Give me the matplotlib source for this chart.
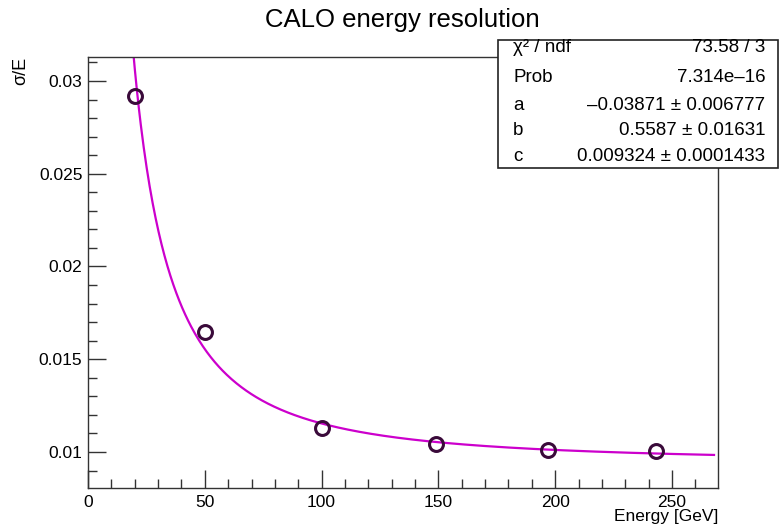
import numpy as np
import matplotlib
matplotlib.use("Agg")
import matplotlib.pyplot as plt
from matplotlib.ticker import MultipleLocator, FormatStrFormatter
from matplotlib.patches import Rectangle

plt.rcParams['font.family'] = ['Liberation Sans', 'DejaVu Sans']

# measured points
energy = [20, 50, 100, 149, 197, 243]
resolution = [0.0292, 0.01647, 0.01129, 0.01043, 0.01011, 0.01005]

# fit parameters (stat box)
a = -0.03871
b = 0.5587
c = 0.009324

stat_labels = ["χ² / ndf", "Prob", "a", "b", "c"]
stat_values = ["73.58 / 3", "7.314e\u201316", "\u20130.03871 ± 0.006777",
               "0.5587 ± 0.01631", "0.009324 ± 0.0001433"]

fig = plt.figure(figsize=(7.8, 5.27), dpi=100)
ax = fig.add_axes([0.1128, 0.074, 0.8077, 0.8178])

e_fit = np.linspace(15, 268, 600)
f_fit = np.sqrt(a**2 / e_fit + b**2 / e_fit**2 + c**2)
ax.plot(e_fit, f_fit, color="#cc00cc", lw=1.6, zorder=2)

ax.plot(energy, resolution, "o", ms=10, mfc="none", mec="#3a0a3a", mew=2.2, zorder=3)

ax.set_xlim(0, 269.7)
ax.set_ylim(0.00806, 0.03129)

ax.xaxis.set_major_locator(MultipleLocator(50))
ax.xaxis.set_minor_locator(MultipleLocator(10))
ax.yaxis.set_major_locator(MultipleLocator(0.005))
ax.yaxis.set_minor_locator(MultipleLocator(0.001))
ax.yaxis.set_major_formatter(FormatStrFormatter("%g"))

ax.tick_params(which="both", direction="in", top=False, right=False,
               color="#333333", labelsize=12.5)
ax.tick_params(which="major", length=13, width=1)
ax.tick_params(which="minor", length=6.5, width=1)
ax.tick_params(axis="x", pad=5)
ax.tick_params(axis="y", pad=4)
for s in ax.spines.values():
    s.set_color("#333333")
    s.set_linewidth(1)

fig.text(0.5155, 0.962, "CALO energy resolution", ha="center", va="center", fontsize=18.5)
fig.text(0.027, 0.892, "σ/E", rotation=90, ha="center", va="top", fontsize=13)
fig.text(0.9205, 0.019, "Energy [GeV]", ha="right", va="center", fontsize=12.5)

# stat box
box = Rectangle((0.638, 0.681), 0.36, 0.243, transform=fig.transFigure,
                facecolor="white", edgecolor="#222222", lw=1.2, zorder=5)
fig.patches.append(box)
rows_y = [0.909, 0.852, 0.799, 0.752, 0.703]
for lab, val, y in zip(stat_labels, stat_values, rows_y):
    fig.text(0.658, y, lab, ha="left", va="center", fontsize=13.5, zorder=6)
    fig.text(0.981, y, val, ha="right", va="center", fontsize=13.5, zorder=6)

fig.savefig("out.png", dpi=100)
